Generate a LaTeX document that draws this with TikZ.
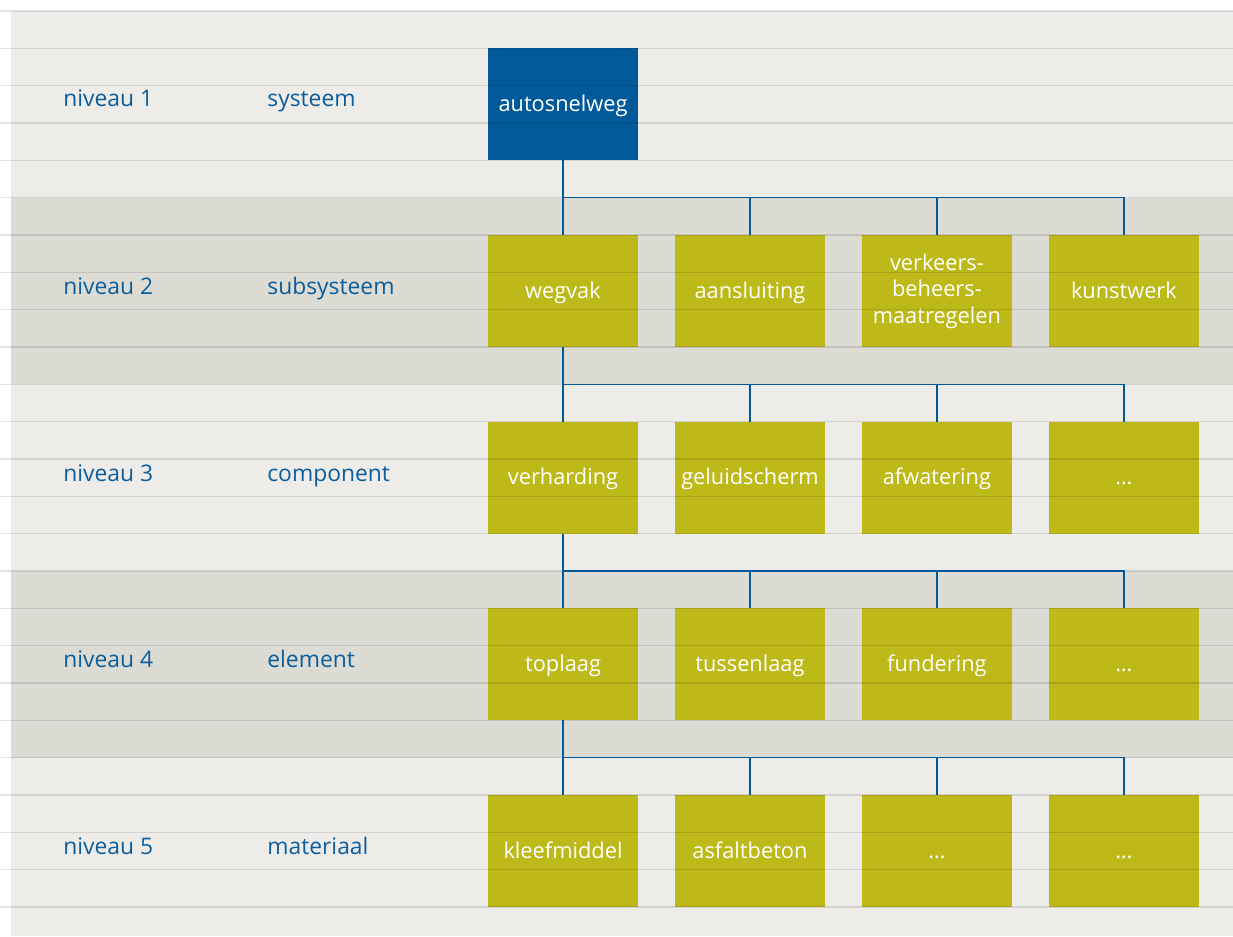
\documentclass[tikz,border=0pt]{standalone}
\usepackage{fontspec}
\setmainfont{Open Sans}
\usepackage{tikz}
\usetikzlibrary{positioning, calc}
\definecolor{mypanel}{RGB}{237,236,232}
\definecolor{myband}{RGB}{220,219,212}
\definecolor{myblue}{RGB}{0,90,154}
\definecolor{myolive}{RGB}{189,185,24}
\definecolor{mylabel}{RGB}{11,94,157}
\tikzset{
  block/.style={rectangle, fill=myolive, text=white,
    minimum width=3cm, minimum height=2.24cm, inner sep=0pt, outer sep=0pt,
    font=\fontsize{12.4}{15}\selectfont, text height=9pt, text depth=1pt},
  topblock/.style={block, fill=myblue},
  multiblock/.style={block, align=center, text height=, text depth=},
  levellabel/.style={anchor=base west, text=mylabel, inner sep=0pt,
    font=\fontsize{13}{15}\selectfont},
  gridline/.style={line width=0.85pt, draw=black, opacity=0.11},
  conn/.style={line width=0.9pt, color=myblue}
}

\begin{document}
\begin{tikzpicture}[x=0.02cm, y=-0.02cm, node distance=0.74cm]
  \useasboundingbox (0,0) rectangle (1233,936);
  % panel and shaded bands
  \fill[mypanel] (11,11) rectangle (1233,936);
  \fill[myband] (11,197.7) rectangle (1233,384.3);
  \fill[myband] (11,571) rectangle (1233,757.7);
  % level labels
  \node[levellabel] (n1) at (63,107) {niveau 1};
  \node[levellabel] (n2) at (63,294) {niveau 2};
  \node[levellabel] (n3) at (63,481) {niveau 3};
  \node[levellabel] (n4) at (63,667) {niveau 4};
  \node[levellabel] (n5) at (63,854) {niveau 5};
  \node[levellabel] (t1) at (267,107) {systeem};
  \node[levellabel] (t2) at (267,294) {subsysteem};
  \node[levellabel] (t3) at (267,481) {component};
  \node[levellabel] (t4) at (267,667) {element};
  \node[levellabel] (t5) at (267,854) {materiaal};
  % level 1
  \node[topblock] (sys) at (563,104.3) {autosnelweg};
  % level 2
  \node[block] (sub1) at (563,291) {wegvak};
  \node[block, right=of sub1] (sub2) {aansluiting};
  \node[multiblock, right=of sub2] (sub3) {verkeers-\\beheers-\\maatregelen};
  \node[block, right=of sub3] (sub4) {kunstwerk};
  % level 3
  \node[block] (com1) at (563,477.7) {verharding};
  \node[block, right=of com1] (com2) {geluidscherm};
  \node[block, right=of com2] (com3) {afwatering};
  \node[block, right=of com3] (com4) {\dots};
  % level 4
  \node[block] (ele1) at (563,664.3) {toplaag};
  \node[block, right=of ele1] (ele2) {tussenlaag};
  \node[block, right=of ele2] (ele3) {fundering};
  \node[block, right=of ele3] (ele4) {\dots};
  % level 5
  \node[block] (mat1) at (563,851) {kleefmiddel};
  \node[block, right=of mat1] (mat2) {asfaltbeton};
  \node[block, right=of mat2] (mat3) {\dots};
  \node[block, right=of mat3] (mat4) {\dots};
  % ruled lines
  \foreach \k in {0,...,24}
    \draw[gridline] (0,{11+\k*37.333}) -- (1233,{11+\k*37.333});
  % tree connectors
  \foreach \p/\c in {sys/sub, sub1/com, com1/ele, ele1/mat} {
    \coordinate (r-\c) at ($(\p.south)!0.5!(\c1.north)$);
    \draw[conn] (\p.south) -- (\c1.north);
    \draw[conn] (r-\c) -| (\c4.north);
    \foreach \i in {2,3}
      \draw[conn] (r-\c -| \c\i.north) -- (\c\i.north);
  }
\end{tikzpicture}
\end{document}
